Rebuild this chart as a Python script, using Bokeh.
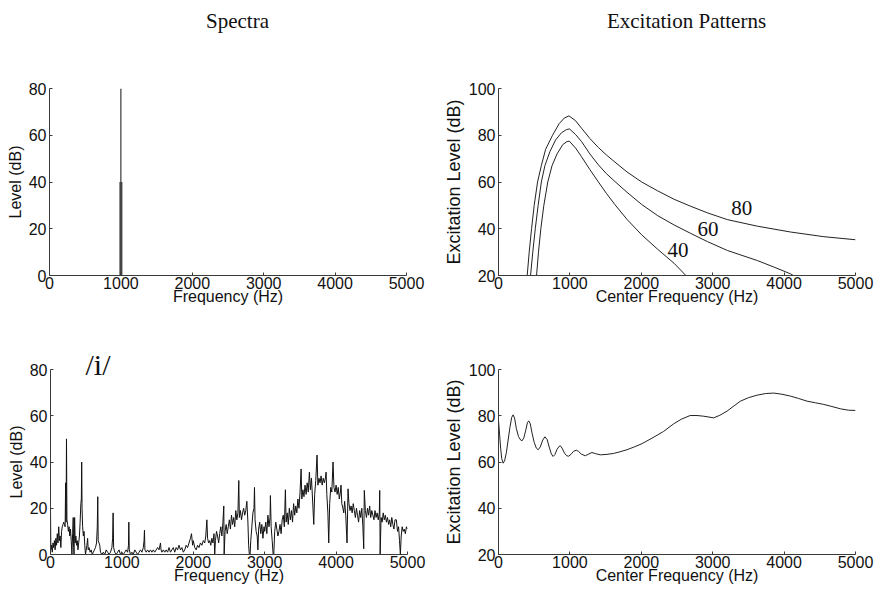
from bokeh.plotting import figure
from bokeh.layouts import row, column
from bokeh.models import FixedTicker, Label, Range1d, Title
from bokeh.embed import file_html
from bokeh.resources import INLINE

# ---------------- data ----------------
freq_ticks = [0, 1000, 2000, 3000, 4000, 5000]
level_ticks = [0, 20, 40, 60, 80]
exc_ticks = [20, 40, 60, 80, 100]

# pure tone spectra (1000 Hz)
tone_freq = [1000, 1000]
tone_level = [80, 40]

# excitation patterns of the 1-kHz tone at 80, 60 and 40 dB
exc80_freq = [402, 430, 463, 500, 547, 600, 660, 757, 850, 920, 986, 1080, 1163, 1280,
              1397, 1510, 1631, 1800, 2005, 2230, 2460, 2693, 2926, 3206, 3625, 4091, 4557, 5000]
exc80_level = [20, 30, 40, 50, 60, 67, 74, 80, 85, 87.3, 88.3, 86.2, 83, 78.6,
               74.8, 71.6, 68.5, 64.3, 60, 56.2, 52.6, 49.6, 46.8, 43.9, 41.1, 38.6, 36.6, 35.3]
exc60_freq = [449, 480, 515, 555, 600, 650, 720, 800, 880, 950, 995, 1080, 1163, 1280,
              1397, 1510, 1631, 1800, 2005, 2230, 2460, 2693, 2926, 3206, 3625, 3858, 4091, 4130]
exc60_level = [20, 30, 40, 50, 60, 67, 73, 78, 81, 82.4, 82.7, 80.3, 77.3, 72,
               67.4, 63.6, 60.2, 55.6, 50.4, 45.6, 41.6, 38, 34.5, 30.7, 26.4, 23.6, 20.7, 20]
exc40_freq = [533, 560, 593, 635, 690, 750, 820, 900, 960, 991, 1080, 1163, 1280,
              1397, 1510, 1631, 1800, 2005, 2230, 2460, 2624]
exc40_level = [20, 30, 40, 50, 60, 67, 72, 76, 77.3, 77.5, 74.5, 70.8, 65.3,
               60.1, 55.2, 50.3, 44, 37.4, 31.2, 25.2, 20]
tone_curve_labels = ["80", "60", "40"]
tone_label_freq = [3408, 2933, 2514]
tone_label_level = [48.8, 39.8, 30.8]

# vowel /i/ spectrum
vowel_freq = [
    0, 5, 15, 25, 35, 45, 55, 65, 75, 85,
    95, 105, 115, 125, 135, 145, 155, 165, 175, 185,
    195, 205, 212, 218, 224, 230, 240, 250, 260, 270,
    280, 290, 300, 310, 318, 324, 330, 338, 346, 355,
    365, 375, 385, 395, 405, 415, 425, 432, 437, 442,
    450, 460, 470, 480, 490, 500, 510, 520, 528, 540,
    555, 570, 585, 600, 615, 630, 645, 655, 662, 668,
    680, 690, 700, 720, 740, 760, 780, 800, 820, 840,
    860, 870, 877, 884, 900, 920, 940, 960, 980, 1000,
    1020, 1040, 1060, 1080, 1092, 1097, 1103, 1120, 1140, 1160,
    1180, 1200, 1220, 1240, 1260, 1280, 1300, 1310, 1316, 1322,
    1340, 1360, 1380, 1400, 1420, 1440, 1460, 1480, 1500, 1520,
    1534, 1540, 1548, 1560, 1580, 1600,
    1620, 1640, 1660, 1680, 1700, 1720, 1740, 1760, 1780, 1800,
    1820, 1840, 1860, 1880, 1900, 1920, 1940, 1960, 1975, 1990,
    2000, 2020, 2040, 2060, 2080, 2100, 2120, 2140, 2160, 2175,
    2190, 2200, 2215, 2230, 2245, 2260, 2275, 2290, 2300, 2310,
    2325, 2340, 2355, 2370, 2385, 2400, 2415, 2427, 2432, 2445,
    2460, 2475, 2490, 2505, 2520, 2535, 2550, 2565, 2580, 2595,
    2610, 2625, 2637, 2645, 2660, 2675, 2690, 2705, 2720, 2735,
    2750, 2765, 2775, 2785, 2795, 2805, 2820, 2835, 2850, 2857,
    2865, 2880, 2895, 2905, 2915, 2930, 2945, 2960, 2975, 2990,
    3000, 3015, 3030, 3045, 3060, 3075, 3080, 3090, 3105, 3118,
    3127, 3140, 3155, 3170, 3185, 3200, 3215, 3230, 3245, 3260,
    3275, 3290, 3300,
    3315, 3330, 3345, 3360, 3375, 3390, 3405, 3420, 3435, 3450,
    3465, 3480, 3495, 3510, 3520, 3535, 3550, 3565, 3580, 3595,
    3610, 3626, 3640, 3655, 3670, 3687, 3700, 3715, 3733, 3745,
    3760, 3775, 3790, 3805, 3820, 3835, 3850, 3860, 3870, 3885,
    3897, 3910, 3925, 3940, 3957, 3970, 3985, 4000, 4015, 4030,
    4045, 4060, 4069, 4080, 4095, 4107, 4120, 4135, 4153, 4167,
    4180, 4195, 4210, 4225, 4240, 4255, 4270, 4285, 4300, 4315,
    4330, 4345, 4360, 4375, 4387, 4395, 4410, 4425, 4440, 4455,
    4470, 4485, 4500, 4515, 4530, 4545, 4560, 4575, 4590, 4605,
    4611, 4617, 4630, 4645, 4660, 4675, 4690, 4705, 4720, 4735,
    4750, 4765, 4780, 4795, 4810, 4825, 4844, 4860, 4875, 4888,
    4900, 4912, 4925, 4940, 4955, 4970, 4985, 5000,
]
vowel_level = [
    20, 2, 4, 1, 5, 3, 6, 2, 7, 4,
    9, 5, 12, 6, 8, 3, 10, 12, 13, 14,
    13, 12, 31, 14, 50, 15, 13, 10, 12, 8,
    11, 6, 0, 9, 16, 3, 0, 16, 5, 8,
    4, 6, 2, 5, 8, 14, 22, 24, 40, 20,
    12, 8, 10, 4, 0, 2, 4, 7, 2, 3,
    1, 2, 0, 1, 2, 3, 5, 12, 25, 6,
    5, 4, 1, 0, 1, 0, 2, 1, 0, 1,
    3, 7, 18, 3, 1, 0, 1, 2, 0, 1,
    0, 1, 2, 1, 4, 14, 2, 0, 1, 0,
    2, 1, 0, 1, 2, 1, 3, 6, 10.5, 2,
    1, 2, 1, 2, 1, 2, 1, 2, 3, 2,
    4, 5, 2, 1, 2, 1,
    2, 1, 3, 1, 2, 3, 1, 3, 2, 4,
    2, 3, 1, 2, 4, 3, 5, 7, 9, 4,
    6, 3, 2, 4, 3, 5, 4, 6, 5, 8,
    15, 7, 5, 6, 4, 7, 5, 9, 0, 6,
    10, 8, 5, 9, 12, 8, 14, 21, 0, 10,
    13, 9, 12, 15, 11, 17, 13, 16, 12, 19,
    15, 18, 32, 16, 19, 15, 18, 20, 17, 19,
    23, 14, 4, 0, 0, 6, 12, 18, 20, 29,
    15, 10, 8, 2, 11, 14, 9, 13, 7, 12,
    10, 14, 9, 17, 12, 16, 25.5, 12, 6, 0,
    0, 10, 14, 11, 8, 10, 13, 9, 15, 17,
    12, 28, 14,
    18, 13, 20, 15, 19, 14, 22, 17, 21, 18,
    24, 20, 27, 37, 24, 28, 25, 30, 26, 31,
    27, 35.6, 28, 33, 24, 13, 26, 32, 43, 30,
    33, 31, 34, 30, 33, 31, 33, 35.6, 26, 18,
    5, 22, 29, 27, 40, 29, 27, 30, 26, 29,
    24, 27, 30, 22, 20, 18, 23, 17, 5, 28.4,
    22, 19, 21, 18, 22, 19, 16, 20, 17, 14,
    19, 16, 20, 12, 2.5, 27.7, 19, 16, 20, 17,
    21, 16, 19, 17, 15, 19, 16, 18, 15, 18,
    27.7, 0, 16, 14, 18, 15, 17, 14, 16, 13,
    15, 12, 16, 13, 11, 15, 15, 10, 12, 6,
    0, 8, 12, 10, 11, 9, 12, 11,
]

# excitation pattern of the vowel
vexc_freq = [0, 15, 30, 45, 65, 85, 110, 135, 160, 185, 205, 225, 250, 280, 310, 331,
             355, 380, 405, 424, 445, 470, 500, 530, 555, 585, 620, 650, 680, 710, 740,
             764, 790, 820, 850, 867, 890, 925, 955, 983, 1015, 1050, 1090, 1120, 1160,
             1216, 1260, 1309, 1360, 1426, 1520, 1612, 1700, 1799, 1900, 2008, 2150,
             2311, 2453, 2560, 2684, 2780, 2874, 3014, 3100, 3201, 3300, 3388, 3500,
             3622, 3740, 3855, 3970, 4089, 4200, 4322, 4440, 4556, 4670, 4790, 4900, 5000]
vexc_level = [78, 72, 66, 61.5, 59.5, 60.5, 64, 69.5, 75, 79.3, 80.4, 79, 74.5, 71, 69.5, 69.2,
              70.5, 73.5, 77, 77.8, 76.5, 72.5, 68.5, 66, 65.3, 66.5, 69.5, 70.9, 69.8, 66.5, 63.5,
              62.4, 63.2, 65.5, 66.8, 67, 66, 63.8, 62.7, 62.5, 63.3, 64.6, 65.1, 64.6, 63.4,
              62.7, 63.4, 64.1, 63.6, 63.1, 63.3, 63.7, 64.4, 65.3, 66.5, 67.9, 70.3,
              73.2, 76.5, 78.5, 80.1, 80.1, 79.8, 79.1, 80.2, 82, 84.3, 86.3, 87.8,
              88.9, 89.6, 89.8, 89.3, 88.5, 87.5, 86.3, 85.6, 84.9, 84, 83, 82.4, 82.3]

titles = ["Spectra", "Excitation Patterns"]
vowel_name = "/i/"

# ---------------- styling helpers ----------------
SANS = "Liberation Sans"
SERIF = "Liberation Serif"
AX = "#3a3a3a"
TXT = "#111111"


def make_fig(w, h, y0, y1, bl, br, bt, bb):
    p = figure(width=w, height=h, x_range=Range1d(0, 5000), y_range=Range1d(y0, y1),
               output_backend="svg", toolbar_location=None,
               min_border_left=bl, min_border_right=br,
               min_border_top=bt, min_border_bottom=bb)
    p.grid.visible = False
    p.outline_line_color = None
    p.background_fill_color = "white"
    p.border_fill_color = "white"
    return p


def style_axes(p, yticks, xlabel, ylabel, ylabel_size):
    p.xaxis.ticker = FixedTicker(ticks=freq_ticks)
    p.yaxis.ticker = FixedTicker(ticks=yticks)
    for ax in (p.xaxis[0], p.yaxis[0]):
        ax.major_tick_in = 3
        ax.major_tick_out = 0
        ax.minor_tick_in = 0
        ax.minor_tick_out = 0
        ax.axis_line_color = AX
        ax.major_tick_line_color = AX
        ax.major_label_text_font = SANS
        ax.major_label_text_font_size = "16px"
        ax.major_label_text_color = TXT
        ax.axis_label_text_font = SANS
        ax.axis_label_text_font_size = "16px"
        ax.axis_label_text_font_style = "normal"
        ax.axis_label_text_color = TXT
    p.xaxis.axis_label = xlabel
    p.yaxis.axis_label = ylabel
    p.yaxis.axis_label_text_font_size = ylabel_size
    p.xaxis.major_label_standoff = 1
    p.xaxis.axis_label_standoff = -4
    p.yaxis.major_label_standoff = 3
    p.yaxis.axis_label_standoff = 2


# ---------------- header with the two column titles ----------------
header = figure(width=874, height=40, x_range=Range1d(0, 874), y_range=Range1d(0, 40),
                output_backend="svg", toolbar_location=None,
                min_border_left=0, min_border_right=0, min_border_top=0, min_border_bottom=0)
header.axis.visible = False
header.grid.visible = False
header.outline_line_color = None
for t, cx in zip(titles, [237, 686]):
    header.add_layout(Label(x=cx, y=20, text=t, text_font=SERIF, text_font_size="21px",
                            text_align="center", text_baseline="middle", text_color=TXT))

# ---------------- panel 1: tone spectra ----------------
p1 = make_fig(440, 270, 0, 80, 49, 34, 48, 35)
style_axes(p1, level_ticks, "Frequency (Hz)", "Level (dB)", "16px")
p1.segment(x0=tone_freq[0], y0=0, x1=tone_freq[0], y1=tone_level[0], line_color="#111111", line_width=1)
p1.segment(x0=tone_freq[1], y0=0, x1=tone_freq[1], y1=tone_level[1], line_color="#444444", line_width=3)

# ---------------- panel 2: tone excitation patterns ----------------
p2 = make_fig(434, 270, 20, 100, 57, 19, 48, 35)
style_axes(p2, exc_ticks, "Center Frequency (Hz)", "Excitation Level (dB)", "18px")
for fx, lv in ((exc80_freq, exc80_level), (exc60_freq, exc60_level), (exc40_freq, exc40_level)):
    p2.line(fx, lv, line_color="#222222", line_width=1)
for t, fx, lv in zip(tone_curve_labels, tone_label_freq, tone_label_level):
    p2.add_layout(Label(x=fx, y=lv, text=t, text_font=SERIF, text_font_size="21px",
                        text_align="center", text_baseline="middle", text_color=TXT))

# ---------------- panel 3: vowel spectrum ----------------
p3 = make_fig(440, 279, 0, 80, 50, 33, 59, 35)
style_axes(p3, level_ticks, "Frequency (Hz)", "Level (dB)", "16px")
p3.line(vowel_freq, vowel_level, line_color="#111111", line_width=1)
p3.add_layout(Title(text=vowel_name, align="left", offset=35, standoff=-22,
                    text_font=SERIF, text_font_size="30px", text_font_style="normal",
                    text_color=TXT), "above")

# ---------------- panel 4: vowel excitation pattern ----------------
p4 = make_fig(434, 279, 20, 100, 58, 19, 59, 35)
style_axes(p4, exc_ticks, "Center Frequency (Hz)", "Excitation Level (dB)", "18px")
p4.line(vexc_freq, vexc_level, line_color="#222222", line_width=1)

layout = column(header, row(p1, p2), row(p3, p4))

with open("out.html", "w") as f:
    f.write(file_html(layout, INLINE))
